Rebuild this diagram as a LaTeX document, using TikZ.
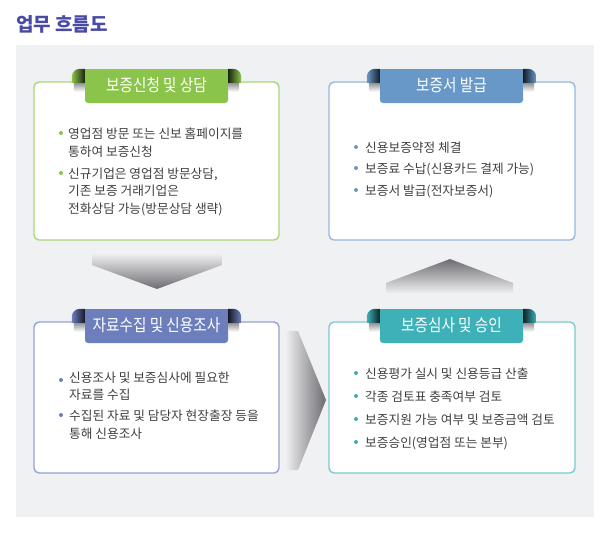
\documentclass[tikz,border=0pt]{standalone}
\usepackage{fontspec}
\setmainfont{Noto Sans CJK KR}
\newfontfamily\tabfont[FakeStretch=0.86]{Noto Sans CJK KR}
\usetikzlibrary{calc}
\definecolor{panel}{RGB}{240,241,243}
\definecolor{titlec}{RGB}{74,74,166}
\definecolor{txt}{RGB}{64,64,64}
\definecolor{cg}{RGB}{139,196,74}
\definecolor{cgb}{RGB}{170,214,124}
\definecolor{cb}{RGB}{104,152,200}
\definecolor{cbb}{RGB}{150,184,222}
\definecolor{cs}{RGB}{108,126,188}
\definecolor{csb}{RGB}{150,162,212}
\definecolor{ct}{RGB}{62,176,184}
\definecolor{ctb}{RGB}{122,202,206}
\definecolor{arl}{RGB}{238,238,240}
\definecolor{ard}{RGB}{108,108,114}
\newcommand\mytab[5]{%
  \node[tabbox=#4] (#1) at (#2,#3) {};
  \fill[#4] (#1.north west) rectangle ($(#1.north east)+(0,5)$);
  \shade[left color=#4, right color=#4!20!black]
    ($(#1.north west)+(0,14)$) -- ($(#1.north west)+(-13,14)$) -- ($(#1.north west)+(-13,8)$)
    .. controls ($(#1.north west)+(-13,3.6)$) and ($(#1.north west)+(-9.4,0)$) .. ($(#1.north west)+(-5,0)$)
    -- (#1.north west) -- cycle;
  \shade[left color=#4!20!black, right color=#4]
    ($(#1.north east)+(0,14)$) -- ($(#1.north east)+(13,14)$) -- ($(#1.north east)+(13,8)$)
    .. controls ($(#1.north east)+(13,3.6)$) and ($(#1.north east)+(9.4,0)$) .. ($(#1.north east)+(5,0)$)
    -- (#1.north east) -- cycle;
  \shade[top color=black!40, bottom color=white] ($(#1.north west)+(-11,14.7)$) rectangle ($(#1.north west)+(0,23)$);
  \shade[top color=black!40, bottom color=white] ($(#1.north east)+(0,14.7)$) rectangle ($(#1.north east)+(11,23)$);
  \node[tabtext] (#1txt) at ($(#1.center)+(0,5.5)$) {#5};
}
\begin{document}
\begin{tikzpicture}[x=1pt,y=-1pt,
  card/.style={draw=#1, line width=1.4pt, fill=white, rounded corners=5pt, inner sep=0pt},
  tabbox/.style={fill=#1, rounded corners=3pt, minimum width=143pt, minimum height=34pt, inner sep=0pt},
  tabtext/.style={text=white, font=\tabfont\fontsize{17}{17}\selectfont, inner sep=0pt, anchor=base},
  line/.style={text=txt, font=\fontsize{12.7}{13}\selectfont, inner sep=0pt, anchor=base west},
  dot/.style={circle, fill=#1, inner sep=0pt, minimum size=4pt},
]
\useasboundingbox (0,0) rectangle (610,533);
\fill[white] (0,0) rectangle (610,533);
\node[anchor=base west, text=titlec, font=\bfseries\fontsize{19}{19}\selectfont, inner sep=0pt] (title) at (16,31) {업무 흐름도};
\fill[panel] (16,45) rectangle (594,517);

% arrows
\shade[top color=arl, bottom color=ard] (92,254) -- (222,254) -- (222,265) -- (157,289) -- (92,265) -- cycle;
\shade[left color=arl, right color=ard] (286,331) -- (298,331) -- (326,400) -- (298,470) -- (286,470) -- cycle;
\shade[top color=ard, bottom color=arl] (386,293) -- (386,283) -- (450,259) -- (513,283) -- (513,293) -- cycle;

% cards
\node[card=cgb, minimum width=245pt, minimum height=158pt] (b1) at (156.5,161) {};
\node[card=cbb, minimum width=246pt, minimum height=158pt] (b2) at (452,161) {};
\node[card=csb, minimum width=245pt, minimum height=151pt] (b3) at (156.5,397.5) {};
\node[card=ctb, minimum width=246pt, minimum height=151pt] (b4) at (452,397.5) {};

\mytab{t1}{156.5}{86}{cg}{보증신청 및 상담}
\mytab{t2}{451.5}{86}{cb}{보증서 발급}
\mytab{t3}{156.5}{326}{cs}{자료수집 및 신용조사}
\mytab{t4}{451.5}{326}{ct}{보증심사 및 승인}

% box 1
\node[dot=cg] (d11) at (61,133) {};
\node[line] (l11) at (68,138) {영업점 방문 또는 신보 홈페이지를};
\node[line] (l12) at (68,156) {통하여 보증신청};
\node[dot=cg] (d12) at (61,173) {};
\node[line] (l13) at (68,178) {신규기업은 영업점 방문상담,};
\node[line] (l14) at (68,195.5) {기존 보증 거래기업은};
\node[line] (l15) at (68,213) {전화상담 가능(방문상담 생략)};

% box 2
\node[dot=cb] (d21) at (356,147) {};
\node[line] (l21) at (365,152) {신용보증약정 체결};
\node[dot=cb] (d22) at (356,168) {};
\node[line] (l22) at (365,173) {보증료 수납(신용카드 결제 가능)};
\node[dot=cb] (d23) at (356,190) {};
\node[line] (l23) at (365,195) {보증서 발급(전자보증서)};

% box 3
\node[dot=cs] (d31) at (61,380) {};
\node[line] (l31) at (69,382) {신용조사 및 보증심사에 필요한};
\node[line] (l32) at (69,399.5) {자료를 수집};
\node[dot=cs] (d32) at (61,415) {};
\node[line] (l33) at (69,420) {수집된 자료 및 담당자 현장출장 등을};
\node[line] (l34) at (69,438) {통해 신용조사};

% box 4
\node[dot=ct] (d41) at (356,373) {};
\node[line] (l41) at (365,378) {신용평가 실시 및 신용등급 산출};
\node[dot=ct] (d42) at (356,396) {};
\node[line] (l42) at (365,401) {각종 검토표 충족여부 검토};
\node[dot=ct] (d43) at (356,419) {};
\node[line] (l43) at (365,424) {보증지원 가능 여부 및 보증금액 검토};
\node[dot=ct] (d44) at (356,442) {};
\node[line] (l44) at (365,447) {보증승인(영업점 또는 본부)};
\end{tikzpicture}
\end{document}
